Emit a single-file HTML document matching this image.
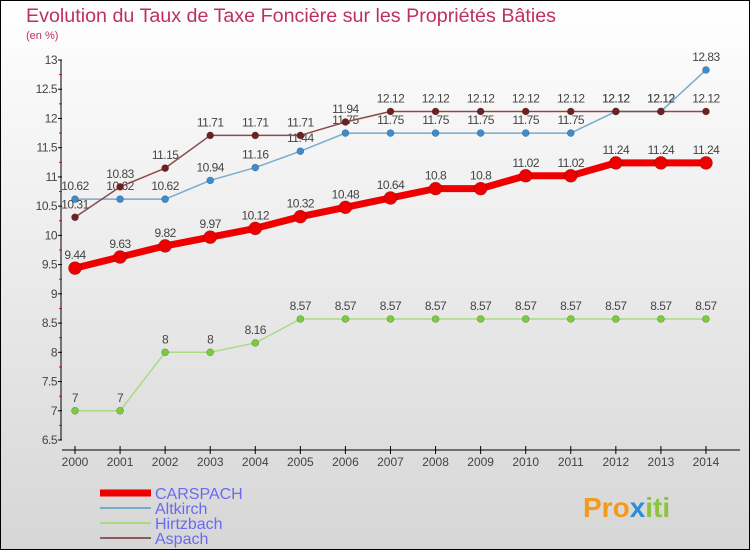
<!DOCTYPE html>
<html><head><meta charset="utf-8"><style>
body{margin:0;width:750px;height:550px;overflow:hidden}
svg{display:block;font-family:"Liberation Sans",sans-serif}
</style></head><body>
<svg width="750" height="550" xmlns="http://www.w3.org/2000/svg">
<defs><linearGradient id="bg" x1="0" y1="0" x2="0" y2="1"><stop offset="0" stop-color="#ffffff"/><stop offset="1" stop-color="#d6d6d6"/></linearGradient></defs>
<rect x="0.5" y="0.5" width="749" height="549" fill="url(#bg)" stroke="#000"/>
<text x="26" y="22" font-size="19.7" fill="#c0305a">Evolution du Taux de Taxe Foncière sur les Propriétés Bâties</text>
<text x="26" y="39" font-size="11" fill="#c0305a">(en %)</text>
<g id="axes"></g>
<g id="series"></g>
<g id="legend"></g>
<text x="583" y="517" font-size="28" font-weight="bold" fill="#f39a1c">Pro<tspan fill="#2a8ed8">x</tspan><tspan fill="#8cc43c">iti</tspan></text>
</svg>
<script>
const years=[2000,2001,2002,2003,2004,2005,2006,2007,2008,2009,2010,2011,2012,2013,2014];
const yTicks=[6.5,7,7.5,8,8.5,9,9.5,10,10.5,11,11.5,12,12.5,13];
const carspach=[9.44,9.63,9.82,9.97,10.12,10.32,10.48,10.64,10.8,10.8,11.02,11.02,11.24,11.24,11.24];
const altkirch=[10.62,10.62,10.62,10.94,11.16,11.44,11.75,11.75,11.75,11.75,11.75,11.75,12.12,12.12,12.83];
const hirtzbach=[7,7,8,8,8.16,8.57,8.57,8.57,8.57,8.57,8.57,8.57,8.57,8.57,8.57];
const aspach=[10.31,10.83,11.15,11.71,11.71,11.71,11.94,12.12,12.12,12.12,12.12,12.12,12.12,12.12,12.12];
const NS="http://www.w3.org/2000/svg";
const X=i=>75+i*45.07;
const Y=v=>440-(v-6.5)*58.46;
function mk(t,a,p){const e=document.createElementNS(NS,t);for(const k in a)e.setAttribute(k,a[k]);p.appendChild(e);return e;}
const ax=document.getElementById('axes');
const yl=mk('line',{x1:61,y1:60,x2:61,y2:440,stroke:'#000'},ax);


const xl=mk('line',{x1:62,y1:450,x2:740,y2:450,stroke:'#000'},ax);


yTicks.forEach((v,i)=>{
 mk('line',{x1:58,y1:Y(v),x2:62,y2:Y(v),stroke:'#000'},ax);
 if(i<yTicks.length-1)mk('line',{x1:59,y1:Y(v+0.25),x2:62,y2:Y(v+0.25),stroke:'#e00'},ax);
 const t=mk('text',{x:57,y:Y(v)+4,'font-size':12,fill:'#444','text-anchor':'end','letter-spacing':'-0.5'},ax);
 t.textContent=String(v);
 
 
});
years.forEach((yr,i)=>{
 mk('line',{x1:X(i),y1:446,x2:X(i),y2:454,stroke:'#000'},ax);
 const t=mk('text',{x:X(i),y:466,'font-size':12,fill:'#444','text-anchor':'middle'},ax);
 t.textContent=String(yr);
 
 
});
const sg=document.getElementById('series');
function series(name,data,color,dot,w,r){
 const g=mk('g',{},sg);
 
 
 const p=mk('polyline',{points:data.map((v,i)=>X(i)+','+Y(v)).join(' '),fill:'none',stroke:color,'stroke-width':w,'stroke-linejoin':'round'},g);
 
 
 data.forEach((v,i)=>{
  const c=mk('circle',{cx:X(i),cy:Y(v),r:r,fill:dot,stroke:'rgba(0,0,0,0.3)','stroke-width':0.6},g);
  
  
  const t=mk('text',{x:X(i),y:Y(v)-9,'font-size':12,fill:'#444','text-anchor':'middle','letter-spacing':'-0.5'},g);
  t.textContent=String(v);
  
  
 });
}
series('hirtzbach',hirtzbach,'#a8dc80','#7acc3c',1.5,3.5);
series('altkirch',altkirch,'#79aacc','#3d8ccc',1.5,3.5);
series('aspach',aspach,'#8c4a4a','#702020',1.5,3.5);
series('carspach',carspach,'#ee0000','#ee0000',7,6.5);
const lg=document.getElementById('legend');
const items=[['CARSPACH','#ee0000',7,493],['Altkirch','#79aacc',2,508],['Hirtzbach','#a8dc80',2,523],['Aspach','#8c5a5a',2,538]];
items.forEach(it=>{
 const g=mk('g',{},lg);
 
 
 mk('line',{x1:100,y1:it[3],x2:151,y2:it[3],stroke:it[1],'stroke-width':it[2]},g);
 const t=mk('text',{x:155,y:it[3]+6,'font-size':16,fill:'#6a6af0'},g);
 t.textContent=it[0];
});
</script>
</body></html>
